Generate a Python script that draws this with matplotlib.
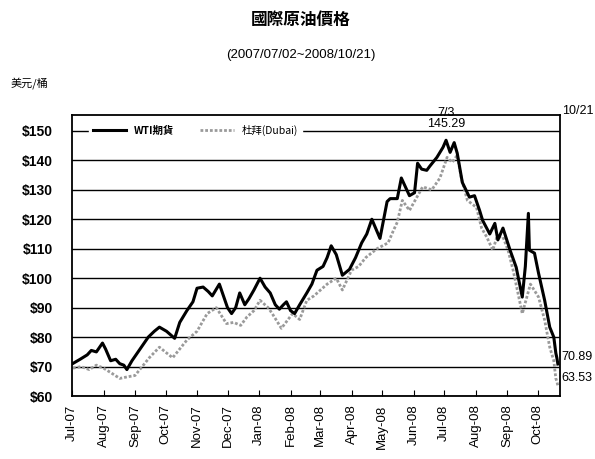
import matplotlib
matplotlib.use("Agg")
import matplotlib.pyplot as plt
import matplotlib.dates as mdates
import pandas as pd

plt.rcParams['font.family'] = ['Liberation Sans', 'Noto Sans CJK TC', 'DejaVu Sans']

# WTI futures
wti_dates = ["2007-07-02", "2007-07-09", "2007-07-16", "2007-07-20", "2007-07-25", "2007-07-31",
             "2007-08-03", "2007-08-08", "2007-08-13", "2007-08-17", "2007-08-21", "2007-08-24",
             "2007-08-29", "2007-09-04", "2007-09-10", "2007-09-14", "2007-09-20", "2007-09-25",
             "2007-10-02", "2007-10-10", "2007-10-15", "2007-10-22", "2007-10-28", "2007-11-01",
             "2007-11-07", "2007-11-12", "2007-11-16", "2007-11-23", "2007-11-27", "2007-12-01",
             "2007-12-05", "2007-12-09", "2007-12-13", "2007-12-18", "2007-12-22", "2007-12-27",
             "2008-01-02", "2008-01-07", "2008-01-12", "2008-01-17", "2008-01-21", "2008-01-25",
             "2008-01-28", "2008-02-01", "2008-02-05", "2008-02-10", "2008-02-17", "2008-02-22",
             "2008-02-27", "2008-03-04", "2008-03-08", "2008-03-12", "2008-03-17", "2008-03-23",
             "2008-03-30", "2008-04-05", "2008-04-11", "2008-04-16", "2008-04-21", "2008-04-29",
             "2008-05-06", "2008-05-09", "2008-05-16", "2008-05-20", "2008-05-28", "2008-06-02",
             "2008-06-05", "2008-06-09", "2008-06-14", "2008-06-17", "2008-06-24", "2008-06-30",
             "2008-07-03", "2008-07-07", "2008-07-11", "2008-07-14", "2008-07-19", "2008-07-26",
             "2008-07-31", "2008-08-05", "2008-08-08", "2008-08-15", "2008-08-20", "2008-08-23",
             "2008-08-28", "2008-09-04", "2008-09-10", "2008-09-16", "2008-09-19", "2008-09-22",
             "2008-09-23", "2008-09-28", "2008-10-02", "2008-10-08", "2008-10-13", "2008-10-17",
             "2008-10-19", "2008-10-20", "2008-10-21"]
wti_vals = [71.1, 72.5, 74.0, 75.5, 75.0, 78.0,
            76.0, 72.0, 72.5, 71.0, 70.5, 69.0,
            72.0, 75.0, 78.0, 80.0, 82.0, 83.4,
            82.0, 79.6, 85.0, 89.0, 92.0, 96.6,
            97.0, 95.5, 94.0, 98.0, 94.0, 90.0,
            88.0, 90.0, 95.0, 91.0, 93.0, 96.0,
            100.0, 97.0, 95.0, 91.0, 89.5, 91.0,
            92.0, 89.0, 88.0, 91.0, 95.0, 98.0,
            102.7, 104.0, 107.0, 111.0, 108.0, 101.0,
            103.0, 107.0, 112.0, 115.0, 120.0, 113.5,
            126.0, 127.0, 127.0, 134.0, 128.0, 129.0,
            139.0, 137.0, 136.6, 138.0, 141.0, 144.4,
            146.8, 142.7, 146.0, 142.4, 132.5, 127.5,
            128.0, 123.0, 119.6, 115.0, 118.6, 113.0,
            117.0, 109.5, 103.7, 93.6, 104.0, 122.0,
            109.5, 108.5, 101.7, 92.5, 83.4, 80.0,
            74.6, 73.0, 70.89]

# Dubai crude
dubai_dates = ["2007-07-02", "2007-07-10", "2007-07-18", "2007-07-25", "2007-08-01", "2007-08-08",
               "2007-08-17", "2007-08-24", "2007-09-01", "2007-09-08", "2007-09-15", "2007-09-25",
               "2007-10-08", "2007-10-15", "2007-10-22", "2007-11-01", "2007-11-11", "2007-11-20",
               "2007-11-30", "2007-12-07", "2007-12-14", "2007-12-20", "2007-12-27", "2008-01-02",
               "2008-01-10", "2008-01-14", "2008-01-23", "2008-02-03", "2008-02-10", "2008-02-17",
               "2008-02-24", "2008-03-08", "2008-03-17", "2008-03-23", "2008-04-01", "2008-04-08",
               "2008-04-15", "2008-04-26", "2008-05-07", "2008-05-12", "2008-05-16", "2008-05-21",
               "2008-05-28", "2008-06-10", "2008-06-19", "2008-06-27", "2008-07-04", "2008-07-09",
               "2008-07-14", "2008-07-18", "2008-07-24", "2008-08-02", "2008-08-05", "2008-08-07",
               "2008-08-12", "2008-08-18", "2008-08-22", "2008-08-28", "2008-09-02", "2008-09-07",
               "2008-09-16", "2008-09-24", "2008-10-02", "2008-10-08", "2008-10-13", "2008-10-17",
               "2008-10-19", "2008-10-20", "2008-10-21"]
dubai_vals = [69.5, 70.0, 69.0, 70.5, 69.5, 68.0,
              66.0, 66.5, 67.0, 70.0, 73.0, 76.6,
              73.0, 76.0, 79.0, 82.0, 88.0, 90.0,
              84.6, 85.0, 84.0, 86.8, 89.0, 92.5,
              90.0, 88.0, 83.0, 88.0, 86.0, 92.5,
              94.0, 98.0, 100.0, 96.0, 102.7, 104.0,
              107.0, 110.0, 112.0, 116.0, 119.0, 126.4,
              123.0, 131.0, 130.0, 134.0, 141.0, 139.3,
              141.7, 134.0, 126.4, 124.0, 119.7, 117.0,
              114.0, 109.5, 114.0, 114.0, 109.5, 102.7,
              88.0, 98.0, 93.6, 85.8, 76.6, 72.0,
              66.0, 65.0, 63.53]

yticks = [60, 70, 80, 90, 100, 110, 120, 130, 140, 150]
month_ticks = pd.date_range("2007-07-01", "2008-10-01", freq="MS")

wti_x = pd.to_datetime(wti_dates)
dubai_x = pd.to_datetime(dubai_dates)

fig = plt.figure(figsize=(5.95, 4.59), dpi=100)
ax = fig.add_axes([0.121, 0.137, 0.82, 0.612])

ax.set_axisbelow(True)
ax.yaxis.grid(True, color='black', linewidth=1.0)
l_dubai, = ax.plot(dubai_x, dubai_vals, color='#9a9a9a', linewidth=2.0,
                   linestyle=(0, (1, 0.7)), label='杜拜(Dubai)', zorder=3)
l_wti, = ax.plot(wti_x, wti_vals, color='black', linewidth=2.2, label='WTI期貨', zorder=4)

ax.set_ylim(60, 155.3)
ax.set_yticks(yticks)
ax.set_yticklabels(['$%d' % v for v in yticks], fontweight='bold', fontsize=10)
ax.set_xlim(pd.Timestamp("2007-07-01"), pd.Timestamp("2008-10-23"))
ax.set_xticks(month_ticks)
ax.xaxis.set_major_formatter(mdates.DateFormatter('%b-%y'))
ax.tick_params(axis='x', direction='in', length=4, labelsize=9.5, labelrotation=90, pad=6)
ax.tick_params(axis='y', length=0, pad=14)
for s in ax.spines.values():
    s.set_linewidth(1.3)

leg = ax.legend([l_wti, l_dubai], ['WTI期貨', '杜拜(Dubai)'],
                loc='center left', bbox_to_anchor=(0.025, 0.945), ncol=2, frameon=True,
                handlelength=3.2, columnspacing=2.5, borderpad=0.3,
                prop={'family': ['Noto Sans CJK TC', 'DejaVu Sans'], 'size': 7.5})
leg.get_frame().set_edgecolor('white')
leg.get_frame().set_facecolor('white')
leg.get_frame().set_alpha(1)
leg.get_texts()[0].set_fontweight('bold')

# annotations
ax.text(pd.Timestamp("2008-07-03"), 156.0, '7/3', ha='center', va='center', fontsize=9)
ax.text(pd.Timestamp("2008-07-03"), 152.2, '145.29', ha='center', va='center', fontsize=9)
fig.text(0.944, 0.758, '10/21', ha='left', va='center', fontsize=9)
fig.text(0.944, 0.222, '70.89', ha='left', va='center', fontsize=9)
fig.text(0.944, 0.176, '63.53', ha='left', va='center', fontsize=9)

fig.text(0.505, 0.956, '國際原油價格', ha='center', va='center', fontsize=12, fontweight='bold',
         family=['Noto Sans CJK TC', 'DejaVu Sans'])
fig.text(0.505, 0.88, '(2007/07/02~2008/10/21)', ha='center', va='center', fontsize=9.5)
fig.text(0.017, 0.819, '美元/桶', ha='left', va='center', fontsize=8,
         family=['Noto Sans CJK TC', 'DejaVu Sans'])

fig.savefig('out.png', dpi=100, facecolor='white')
